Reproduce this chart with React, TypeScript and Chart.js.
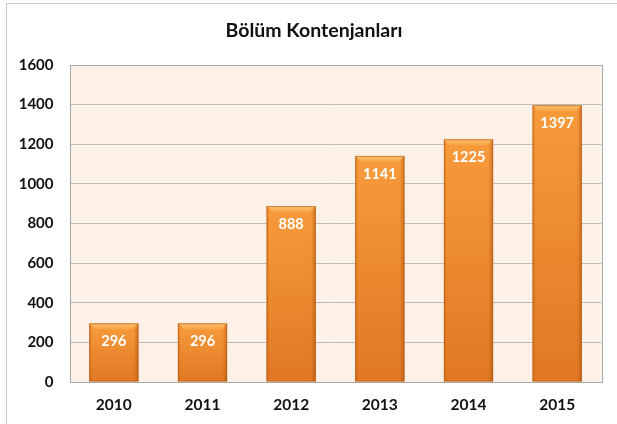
import React, { useEffect, useRef } from "react";
import { Chart, registerables } from "chart.js";

Chart.register(...registerables);

const TITLE = "Bölüm Kontenjanları";
const categories = ["2010", "2011", "2012", "2013", "2014", "2015"];
const values = [296, 296, 888, 1141, 1225, 1397];
const yMin = 0;
const yMax = 1600;
const yStep = 200;

const FONT = "Lato, 'Open Sans', sans-serif";

const decorPlugin = {
  id: "decor",
  beforeDraw(chart: any) {
    const { ctx, chartArea: a } = chart;
    ctx.save();
    ctx.fillStyle = "#ffffff";
    ctx.fillRect(0, 0, chart.width, chart.height);
    ctx.strokeStyle = "#c8c8c8";
    ctx.lineWidth = 1;
    ctx.strokeRect(6.5, 3.5, chart.width + 50, chart.height + 50);
    ctx.fillStyle = "#fdf1e7";
    ctx.fillRect(a.left, a.top, a.right - a.left, a.bottom - a.top);
    ctx.restore();
  },
  afterDraw(chart: any) {
    const { ctx, chartArea: a } = chart;
    ctx.save();
    ctx.strokeStyle = "#a8a8a8";
    ctx.lineWidth = 1;
    ctx.strokeRect(Math.round(a.left) + 0.5, Math.round(a.top) + 0.5, Math.round(a.right - a.left), Math.round(a.bottom - a.top));
    ctx.fillStyle = "#111111";
    ctx.font = `bold 19.5px ${FONT}`;
    ctx.textAlign = "center";
    ctx.textBaseline = "middle";
    ctx.fillText(TITLE, 314, 31);
    ctx.restore();
  },
  afterDatasetsDraw(chart: any) {
    const { ctx } = chart;
    const meta = chart.getDatasetMeta(0);
    ctx.save();
    meta.data.forEach((bar: any, i: number) => {
      const w = bar.width;
      const l = bar.x - w / 2;
      const r = bar.x + w / 2;
      const t = bar.y;
      const b = bar.base;
      const g = ctx.createLinearGradient(0, t, 0, b);
      g.addColorStop(0, "#f89b3b");
      g.addColorStop(1, "#e07823");
      ctx.fillStyle = g;
      ctx.fillRect(l, t, w, b - t);
      const hg = ctx.createLinearGradient(l, 0, r, 0);
      hg.addColorStop(0, "rgba(170,80,10,0.35)");
      hg.addColorStop(0.06, "rgba(170,80,10,0.0)");
      hg.addColorStop(0.9, "rgba(170,80,10,0.0)");
      hg.addColorStop(1, "rgba(150,70,10,0.45)");
      ctx.fillStyle = hg;
      ctx.fillRect(l, t, w, b - t);
      const bv = 6;
      ctx.beginPath();
      ctx.moveTo(l, t);
      ctx.lineTo(r, t);
      ctx.lineTo(r - bv, t + bv);
      ctx.lineTo(l + bv, t + bv);
      ctx.closePath();
      const bg = ctx.createLinearGradient(0, t, 0, t + bv);
      bg.addColorStop(0, "#fcc070");
      bg.addColorStop(1, "#f8a547");
      ctx.fillStyle = bg;
      ctx.fill();
      ctx.strokeStyle = "rgba(180,90,20,0.6)";
      ctx.lineWidth = 1;
      ctx.strokeRect(l + 0.5, t + 0.5, w - 1, b - t - 1);
      ctx.fillStyle = "#ffffff";
      ctx.font = `bold 14.5px ${FONT}`;
      ctx.textAlign = "center";
      ctx.textBaseline = "middle";
      ctx.fillText(String(values[i]), bar.x, t + 18);
    });
    ctx.restore();
  },
};

export default function App() {
  const ref = useRef<HTMLCanvasElement>(null);
  useEffect(() => {
    document.body.style.margin = "0";
    document.body.style.overflow = "hidden";
    const chart = new Chart(ref.current!, {
      type: "bar",
      data: {
        labels: categories,
        datasets: [
          {
            data: values,
            backgroundColor: "rgba(0,0,0,0)",
            borderWidth: 0,
            barPercentage: 0.555,
            categoryPercentage: 1,
          },
        ],
      },
      options: {
        responsive: false,
        animation: false,
        devicePixelRatio: 1,
        layout: { padding: { top: 65, right: 15.5, left: 0, bottom: 0 } },
        plugins: {
          legend: { display: false },
          title: { display: false },
          tooltip: { enabled: false },
        },
        scales: {
          x: {
            grid: { display: false, drawTicks: false },
            border: { display: false },
            ticks: {
              color: "#111111",
              font: { family: FONT, size: 15.5, weight: "bold" },
              padding: 14,
            },
            afterFit(scale: any) {
              scale.height = 42;
            },
          },
          y: {
            min: yMin,
            max: yMax,
            grid: { color: "#bdbdbd", lineWidth: 1, drawTicks: false },
            border: { display: false },
            ticks: {
              stepSize: yStep,
              color: "#111111",
              font: { family: FONT, size: 15, weight: "bold" },
              padding: 16,
              callback: (v: any) => String(v),
            },
            afterFit(scale: any) {
              scale.width = 69.5;
            },
          },
        },
      },
      plugins: [decorPlugin],
    });
    return () => chart.destroy();
  }, []);
  return <canvas ref={ref} width={617} height={424} style={{ display: "block" }} />;
}
